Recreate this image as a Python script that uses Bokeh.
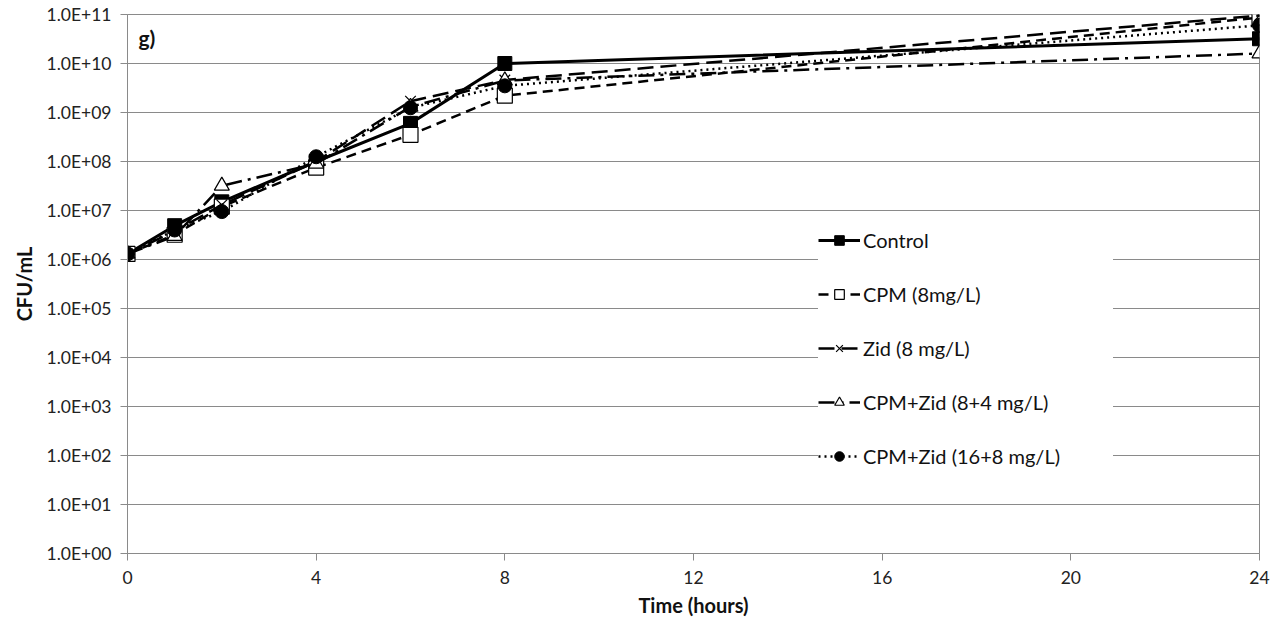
from bokeh.plotting import figure
from bokeh.models import Range1d, FixedTicker, CustomJSTickFormatter, Legend, Label
from bokeh.embed import file_html
from bokeh.resources import INLINE

# ---- data ----
time_h = [0, 1, 2, 4, 6, 8, 24]
control = [1.3e6, 4.9e6, 1.5e7, 1.0e8, 6.0e8, 1.0e10, 3.2e10]
cpm_8 = [1.3e6, 3.2e6, 1.2e7, 7.5e7, 3.5e8, 2.2e9, 8.7e10]
zid_8 = [1.3e6, 3.8e6, 1.3e7, 1.0e8, 1.7e9, 4.6e9, 9.5e10]
cpm_zid_8_4 = [1.3e6, 3.0e6, 3.2e7, 9.0e7, 1.3e9, 4.5e9, 1.6e10]
cpm_zid_16_8 = [1.3e6, 4.0e6, 9.5e6, 1.25e8, 1.25e9, 3.5e9, 6.0e10]
x_ticks = [0, 4, 8, 12, 16, 20, 24]
y_ticks = [10.0 ** k for k in range(0, 12)]

FONT = "Lato"
GRID = "#8a8a8a"

p = figure(width=1285, height=626, output_backend="svg", toolbar_location=None,
           y_axis_type="log", x_range=Range1d(0, 24), y_range=Range1d(1, 1e11),
           min_border_left=127, min_border_right=26, min_border_top=14,
           min_border_bottom=73)
p.outline_line_color = GRID
p.outline_line_width = 1
p.background_fill_color = "white"
p.border_fill_color = "white"

p.xgrid.visible = False
p.ygrid.grid_line_color = GRID
p.ygrid.grid_line_width = 1

p.xaxis.ticker = FixedTicker(ticks=x_ticks)
p.yaxis.ticker = FixedTicker(ticks=y_ticks)
p.yaxis.formatter = CustomJSTickFormatter(code="""
const e = Math.round(Math.log10(tick));
return "1.0E+" + (e < 10 ? "0" + e : "" + e);
""")
for ax in (p.xaxis[0], p.yaxis[0]):
    ax.axis_line_color = GRID
    ax.major_tick_line_color = GRID
    ax.major_tick_in = 0
    ax.major_tick_out = 7
    ax.minor_tick_in = 0
    ax.minor_tick_out = 0
    ax.major_label_text_font = FONT
    ax.major_label_text_font_size = "17.5px"
    ax.major_label_text_color = "#222222"
    ax.axis_label_text_font = FONT
    ax.axis_label_text_font_size = "20px"
    ax.axis_label_text_font_style = "bold"
    ax.axis_label_text_color = "#111111"
p.xaxis.major_label_standoff = 10
p.yaxis.major_label_standoff = 9
p.xaxis.axis_label = "Time (hours)"
p.yaxis.axis_label = "CFU/mL"
p.xaxis.axis_label_standoff = 6
p.yaxis.axis_label_standoff = 8

series = [
    ("Control", control, dict(line_dash="solid", line_width=3),
     dict(marker="square", size=14, fill_color="black", line_color="black")),
    ("CPM (8mg/L)", cpm_8, dict(line_dash="10 6", line_width=2.5),
     dict(marker="square", size=15, fill_color="white", line_color="black", line_width=1.2)),
    ("Zid (8 mg/L)", zid_8, dict(line_dash="16 7", line_width=2.5),
     dict(marker="x", size=15, line_color="black", line_width=1.2)),
    ("CPM+Zid (8+4 mg/L)", cpm_zid_8_4, dict(line_dash="16 6 3 6", line_width=2.5),
     dict(marker="triangle", size=15, fill_color="white", line_color="black", line_width=1.2)),
    ("CPM+Zid (16+8 mg/L)", cpm_zid_16_8, dict(line_dash="2 4", line_width=2.5),
     dict(marker="circle", size=14, fill_color="black", line_color="black")),
]

items = []
for name, ys, lkw, mkw in series:
    r1 = p.line(time_h, ys, line_color="black", **lkw)
    r2 = p.scatter(time_h, ys, **mkw)
    items.append((name, [r1, r2]))

legend = Legend(items=items, location=(691, 85), orientation="vertical",
                glyph_width=42, glyph_height=24, label_height=24, spacing=30,
                label_width=250, padding=0, margin=0, label_standoff=3,
                label_text_font=FONT, label_text_font_size="20px",
                label_text_color="#111111", label_text_baseline="middle",
                background_fill_color="white", background_fill_alpha=1.0,
                border_line_color=None)
p.add_layout(legend, "center")

tag = Label(x=11, y=516, x_units="screen", y_units="screen", text="g)",
            text_font=FONT, text_font_size="21px", text_font_style="bold",
            text_baseline="middle", text_color="#111111")
p.add_layout(tag)

open("out.html", "w").write(file_html(p, INLINE))
